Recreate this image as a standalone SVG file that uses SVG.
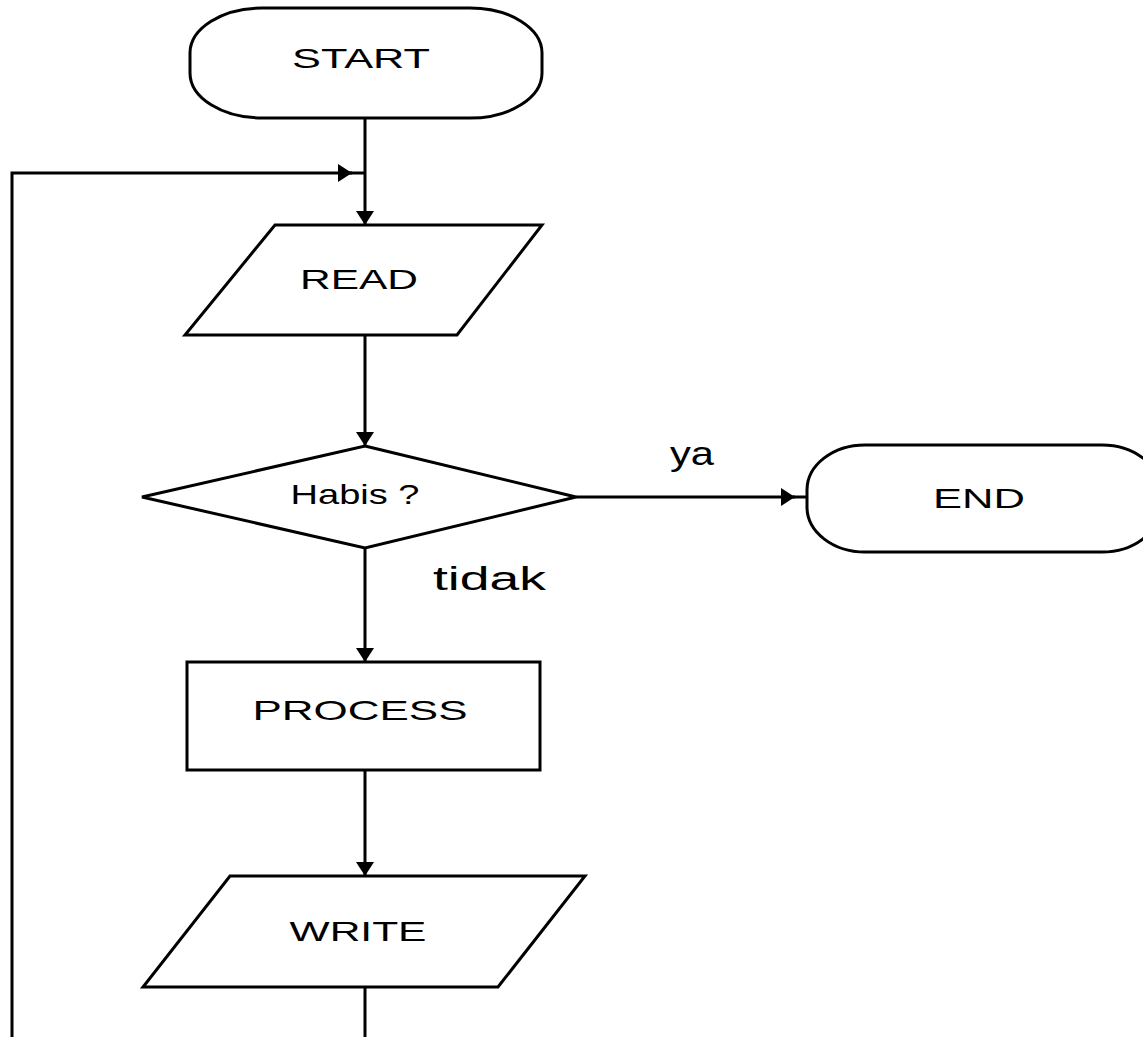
<svg xmlns="http://www.w3.org/2000/svg" width="1143" height="1037" viewBox="0 0 1143 1037">
<style>
.shape{fill:#fff;stroke:#000;stroke-width:3}
.conn{fill:none;stroke:#000;stroke-width:3}
.lbl{font-family:"Liberation Sans",Arial,sans-serif;font-size:28px;fill:#000;text-anchor:middle}
.edge{font-family:"Liberation Sans",Arial,sans-serif;font-size:34px;fill:#000}
</style>
<defs>
<marker id="arr" markerWidth="14" markerHeight="20" refX="14" refY="10" markerUnits="userSpaceOnUse" orient="auto">
<path d="M0,1 L14,10 L0,19 z" fill="#000"/>
</marker>
</defs>
<rect width="1143" height="1037" fill="#fff"/>
<g id="connectors">
<path class="conn" d="M365,118 V225" marker-end="url(#arr)"/>
<path class="conn" d="M12,1037 V173 H352" marker-end="url(#arr)"/>
<path class="conn" d="M350,173 H365"/>
<path class="conn" d="M365,335 V446" marker-end="url(#arr)"/>
<path class="conn" d="M576,497 H795" marker-end="url(#arr)"/>
<path class="conn" d="M793,497 H807"/>
<path class="conn" d="M365,548 V662" marker-end="url(#arr)"/>
<path class="conn" d="M365,770 V876" marker-end="url(#arr)"/>
<path class="conn" d="M365,987 V1037"/>
<text class="edge" x="670" y="465" textLength="44" lengthAdjust="spacingAndGlyphs">ya</text>
<text class="edge" x="433" y="590" textLength="113" lengthAdjust="spacingAndGlyphs">tidak</text>
</g>
<g id="start">
<rect class="shape" x="190" y="8" width="352" height="110" rx="72" ry="45"/>
<text class="lbl" x="361" y="68" textLength="138" lengthAdjust="spacingAndGlyphs">START</text>
</g>
<g id="read">
<polygon class="shape" points="275,225 542,225 457,335 185,335"/>
<text class="lbl" x="359" y="289" textLength="118" lengthAdjust="spacingAndGlyphs">READ</text>
</g>
<g id="decision">
<polygon class="shape" points="365,446 576,497 365,548 142,497"/>
<text class="lbl" x="355" y="504" textLength="129" lengthAdjust="spacingAndGlyphs">Habis ?</text>
</g>
<g id="end">
<rect class="shape" x="807" y="445" width="353" height="107" rx="58" ry="45"/>
<text class="lbl" x="979" y="508" textLength="92" lengthAdjust="spacingAndGlyphs">END</text>
</g>
<g id="process">
<rect class="shape" x="187" y="662" width="353" height="108"/>
<text class="lbl" x="360" y="720" textLength="215" lengthAdjust="spacingAndGlyphs">PROCESS</text>
</g>
<g id="write">
<polygon class="shape" points="230,876 585,876 498,987 143,987"/>
<text class="lbl" x="358" y="941" textLength="137" lengthAdjust="spacingAndGlyphs">WRITE</text>
</g>
</svg>
